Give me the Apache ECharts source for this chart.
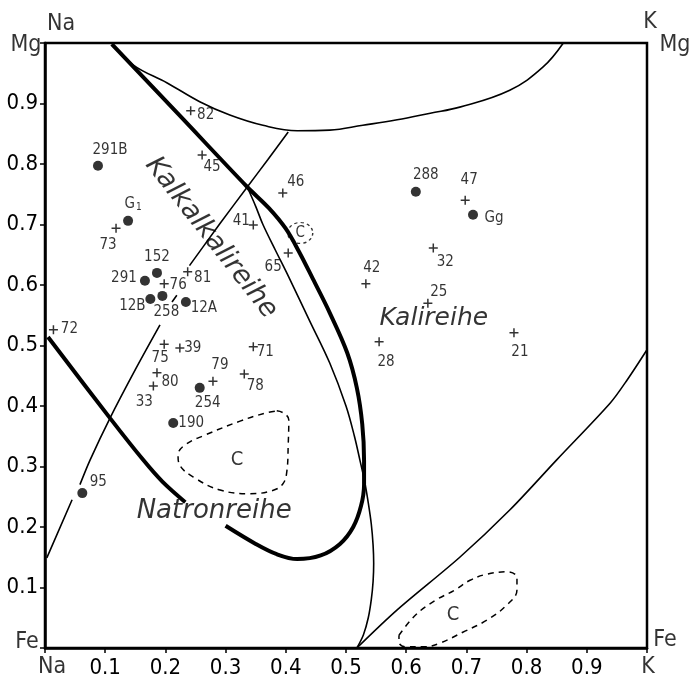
<!DOCTYPE html>
<html>
<head>
<meta charset="utf-8">
<script src="https://cdn.jsdelivr.net/npm/echarts@6/dist/echarts.min.js"></script>
<style>
  html, body { margin: 0; padding: 0; background: #fff; }
  #chart { width: 690px; height: 682px; }
</style>
</head>
<body>
<div id="chart"></div>
<script>
// x = K / (Na + K), y = Mg / (Mg + Fe)
const tickLabels = ['0.1', '0.2', '0.3', '0.4', '0.5', '0.6', '0.7', '0.8', '0.9'];

// analyses plotted as dots
const dotNames = ['291B', 'G1', '288', 'Gg', '152', '291', '12B', '258', '12A', '254', '190', '95'];
const dotX = [0.088, 0.138, 0.616, 0.711, 0.186, 0.166, 0.175, 0.195, 0.234, 0.257, 0.213, 0.062];
const dotY = [0.797, 0.706, 0.754, 0.716, 0.620, 0.607, 0.577, 0.582, 0.572, 0.430, 0.372, 0.256];

// analyses plotted as crosses
const plusNames = ['82', '45', '46', '47', '41', '73', '76', '81', '72', '75', '39', '80', '33', '79', '71', '78', '65', '42', '32', '25', '28', '21'];
const plusX = [0.242, 0.261, 0.395, 0.698, 0.346, 0.118, 0.198, 0.237, 0.014, 0.198, 0.224, 0.186, 0.180, 0.279, 0.346, 0.331, 0.404, 0.533, 0.645, 0.636, 0.555, 0.779];
const plusY = [0.888, 0.815, 0.752, 0.740, 0.699, 0.694, 0.602, 0.622, 0.526, 0.502, 0.496, 0.455, 0.433, 0.441, 0.498, 0.453, 0.653, 0.602, 0.661, 0.570, 0.506, 0.521];

// field boundaries
const seriesLoop = [[0.111, 0.998], [0.22, 0.884], [0.336, 0.762], [0.372, 0.727], [0.40, 0.693], [0.422, 0.655], [0.445, 0.61], [0.473, 0.554], [0.502, 0.488], [0.518, 0.43], [0.527, 0.37], [0.530, 0.31], [0.530, 0.27], [0.525, 0.235], [0.512, 0.20], [0.49, 0.172], [0.458, 0.153], [0.419, 0.147], [0.385, 0.155], [0.35, 0.172], [0.30, 0.202], null, [0.233, 0.241], [0.195, 0.275], [0.163, 0.311], [0.108, 0.380], [0.005, 0.514]];
const innerCurve = [[0.336, 0.762], [0.350, 0.730], [0.362, 0.700], [0.383, 0.657], [0.404, 0.615], [0.44, 0.54], [0.473, 0.471], [0.50, 0.40], [0.514, 0.35], [0.523, 0.311], [0.531, 0.275], [0.537, 0.24], [0.542, 0.205], [0.545, 0.17], [0.546, 0.14], [0.545, 0.11], [0.542, 0.08], [0.537, 0.05], [0.529, 0.022], [0.518, 0.0]];
const splitLine = [[0.003, 0.149], [0.045, 0.245], null, [0.058, 0.27], [0.075, 0.311], [0.108, 0.380], [0.15, 0.46], [0.191, 0.534], null, [0.211, 0.572], [0.219, 0.583], null, [0.24, 0.632], [0.291, 0.702], [0.336, 0.762], [0.37, 0.807], [0.404, 0.853]];
const topArc = [[0.112, 0.998], [0.146, 0.964], [0.203, 0.934], [0.257, 0.903], [0.307, 0.881], [0.362, 0.864], [0.419, 0.855], [0.473, 0.856], [0.528, 0.864], [0.585, 0.873], [0.640, 0.884], [0.689, 0.894], [0.772, 0.922], [0.827, 0.960], [0.861, 1.0]];
const lowerRight = [[0.518, 0.0], [0.585, 0.063], [0.689, 0.150], [0.772, 0.228], [0.850, 0.311], [0.939, 0.405], [0.967, 0.443], [1.0, 0.493]];

// dashed fields "C"
const fieldC1 = [[0.385, 0.392], [0.397, 0.388], [0.405, 0.377], [0.404, 0.336], [0.402, 0.294], [0.395, 0.271], [0.377, 0.260], [0.341, 0.255], [0.291, 0.261], [0.249, 0.281], [0.224, 0.302], [0.221, 0.319], [0.233, 0.336], [0.266, 0.352], [0.324, 0.375], [0.365, 0.388], [0.385, 0.392]];
const fieldC2 = [[0.588, 0.021], [0.616, 0.055], [0.649, 0.079], [0.681, 0.096], [0.706, 0.112], [0.734, 0.122], [0.769, 0.126], [0.784, 0.116], [0.784, 0.096], [0.767, 0.071], [0.734, 0.046], [0.694, 0.026], [0.656, 0.008], [0.631, 0.002], [0.598, 0.002], [0.588, 0.010], [0.588, 0.021]];
const fieldC3 = [0.424, 0.686];

const labelOffset = {
  '291B': [12, -16], 'G1': [5, -17], '288': [10, -17], 'Gg': [21, 3], '152': [0, -16], '291': [-21, -3],
  '12B': [-18, 7], '258': [4, 16], '12A': [18, 6], '254': [8, 15], '190': [18, 0], '95': [16, -11],
  '82': [15, 4], '45': [10, 12], '46': [13, -11], '47': [4, -20], '41': [-12, -4], '73': [-8, 17],
  '76': [14, 1], '81': [15, 6], '72': [16, -1], '75': [-4, 14], '39': [13, 0], '80': [13, 9],
  '33': [-9, 16], '79': [7, -16], '71': [12, 5], '78': [11, 12], '65': [-15, 14], '42': [6, -16],
  '32': [12, 14], '25': [11, -11], '28': [7, 20], '21': [6, 19]
};

const notes = [
  { text: 'Kalkalkalireihe', at: [0.276, 0.678], rotate: -52, size: 27, italic: true },
  { text: 'Kalireihe', at: [0.646, 0.545], rotate: 0, size: 25, italic: true },
  { text: 'Natronreihe', at: [0.281, 0.226], rotate: 0, size: 26, italic: true },
  { text: 'C', at: [0.319, 0.311], rotate: 0, size: 20 },
  { text: 'C', at: [0.678, 0.055], rotate: 0, size: 20 },
  { text: 'C', at: [0.424, 0.686], rotate: 0, size: 15 }
];

const corners = [
  { text: 'Na', at: [0, 1], off: [16, -19] },
  { text: 'Mg', at: [0, 1], off: [-19, 2] },
  { text: 'K', at: [1, 1], off: [3, -21] },
  { text: 'Mg', at: [1, 1], off: [28, 2] },
  { text: 'Fe', at: [0, 0], off: [-18, -6] },
  { text: 'Na', at: [0, 0], off: [7, 19] },
  { text: 'Fe', at: [1, 0], off: [18, -8] },
  { text: 'K', at: [1, 0], off: [1, 19] }
];

const NARROW = '"Liberation Sans Narrow", "DejaVu Sans Condensed", "Liberation Sans", sans-serif';
const WIDE = '"DejaVu Sans", sans-serif';
const PLUS = 'path://M3.75,0H5.25V3.75H9V5.25H5.25V9H3.75V5.25H0V3.75H3.75Z';

const chart = echarts.init(document.getElementById('chart'), null, { renderer: 'canvas' });

const curve = (data, width, dashed, smooth) => ({
  type: 'line',
  data: data,
  smooth: smooth,
  showSymbol: false,
  symbol: 'none',
  silent: true,
  connectNulls: false,
  lineStyle: { color: '#000', width: width, type: dashed ? [6, 5] : 'solid' },
  z: 3
});

const tickFmt = v => {
  const i = Math.round(v * 10);
  return i > 0 && i < 10 ? tickLabels[i - 1] : '';
};

chart.setOption({
  animation: false,
  backgroundColor: '#fff',
  grid: { left: 45, right: 43, top: 43, bottom: 34, show: true, borderColor: '#000', borderWidth: 2.5 },
  xAxis: {
    type: 'value', min: 0, max: 1, interval: 0.1,
    splitLine: { show: false },
    axisLine: { lineStyle: { color: '#000', width: 2.5 } },
    axisTick: { length: 5, lineStyle: { color: '#000', width: 1.5 } },
    axisLabel: { margin: 9, color: '#000', fontSize: 22, fontFamily: NARROW, formatter: tickFmt }
  },
  yAxis: {
    type: 'value', min: 0, max: 1, interval: 0.1,
    splitLine: { show: false },
    axisLine: { lineStyle: { color: '#000', width: 2.5 } },
    axisTick: { length: 5, lineStyle: { color: '#000', width: 1.5 } },
    axisLabel: { margin: 7, color: '#000', fontSize: 22, fontFamily: NARROW, formatter: tickFmt }
  },
  series: [
    curve(seriesLoop, 4, false, 0.35),
    curve(innerCurve, 1.6, false, 0.35),
    curve(splitLine, 1.6, false, 0.3),
    curve(topArc, 1.6, false, 0.4),
    curve(lowerRight, 1.6, false, 0.3),
    curve(fieldC1, 1.5, true, 0.4),
    curve(fieldC2, 1.5, true, 0.4),
    {
      type: 'scatter',
      data: [fieldC3],
      symbol: 'circle',
      symbolSize: [25, 21],
      itemStyle: { color: 'transparent', borderColor: '#000', borderWidth: 1.3, borderType: [3, 3] },
      silent: true,
      z: 3
    },
    {
      type: 'scatter',
      data: dotNames.map((n, i) => ({ name: n, value: [dotX[i], dotY[i]], label: { offset: labelOffset[n] } })),
      symbol: 'circle',
      symbolSize: 10,
      itemStyle: { color: '#000' },
      label: {
        show: true, position: 'inside', color: '#000', fontSize: 15, fontWeight: 'condensed', fontFamily: NARROW,
        formatter: p => p.name === 'G1' ? '{g|G}{s|1}' : p.name,
        rich: {
          g: { fontSize: 15, fontFamily: NARROW, color: '#000' },
          s: { fontSize: 10, fontFamily: NARROW, color: '#000', padding: [8, 0, 0, 1] }
        }
      },
      z: 5
    },
    {
      type: 'scatter',
      data: plusNames.map((n, i) => ({ name: n, value: [plusX[i], plusY[i]], label: { offset: labelOffset[n] } })),
      symbol: PLUS,
      symbolSize: 9,
      itemStyle: { color: '#000' },
      label: { show: true, position: 'inside', color: '#000', fontSize: 15, fontWeight: 'condensed', fontFamily: NARROW, formatter: p => p.name },
      z: 5
    },
    {
      type: 'scatter',
      data: notes.map(n => ({
        value: n.at,
        label: { formatter: n.text, rotate: n.rotate, fontSize: n.size, fontStyle: n.italic ? 'italic' : 'normal', fontFamily: n.italic ? WIDE : NARROW }
      })),
      symbolSize: 0,
      silent: true,
      label: { show: true, position: 'inside', color: '#000' },
      z: 6
    },
    {
      type: 'scatter',
      data: corners.map(c => ({ value: c.at, label: { formatter: c.text, offset: c.off } })),
      symbolSize: 0,
      silent: true,
      label: { show: true, position: 'inside', color: '#000', fontSize: 23, fontFamily: NARROW },
      z: 6
    }
  ]
});
</script>
</body>
</html>
